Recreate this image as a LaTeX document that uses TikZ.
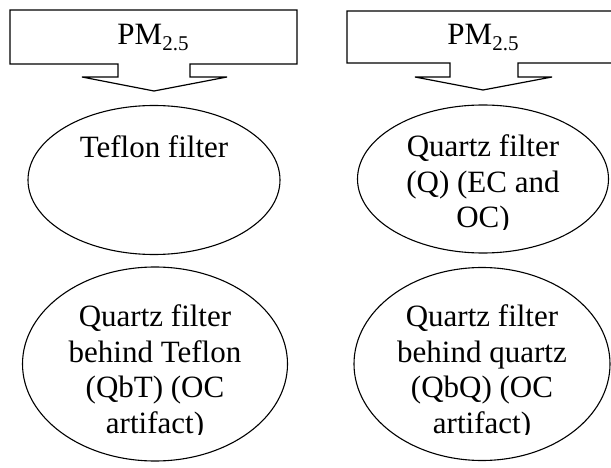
\documentclass[tikz,border=0pt]{standalone}
\usepackage{fontspec}
\setmainfont{Liberation Serif}
\usetikzlibrary{shapes.geometric}
\newcommand{\pmsub}{PM\raisebox{-5.5pt}{\fontsize{21}{21}\selectfont 2.5}}
\begin{document}
\begin{tikzpicture}[x=1pt,y=-1pt,
  outline/.style={draw=black,line width=1.2pt,line join=miter},
  filterbox/.style={ellipse,draw=black,line width=1.1pt,inner sep=0pt},
  caption/.style={font=\fontsize{31}{35.5}\selectfont,align=center,inner sep=0pt,anchor=base},
  pmtext/.style={font=\fontsize{31}{32}\selectfont,inner sep=0pt,anchor=base}]
\useasboundingbox (0,0) rectangle (611,468);

% left sampling stream: box with a downward arrow
\draw[outline] (10,10) -- (297,10) -- (297,64) -- (190,64) -- (190,77) -- (227,77)
  -- (154,91) -- (82,77) -- (118,77) -- (118,64) -- (10,64) -- cycle;
\node[pmtext] (pmA) at (153,45) {\pmsub};

% right sampling stream
\draw[outline] (347,11) -- (640,11) -- (640,63) -- (518,63) -- (518,77) -- (552,77)
  -- (483,90) -- (415,77) -- (450,77) -- (450,63) -- (347,63) -- cycle;
\node[pmtext] (pmB) at (483,45) {\pmsub};

% filters
\node[filterbox,minimum width=252pt,minimum height=149pt] (teflon) at (154,180) {};
\node[filterbox,minimum width=251pt,minimum height=148pt] (quartz) at (483,179) {};
\node[filterbox,minimum width=265pt,minimum height=194pt] (qbt) at (155,364) {};
\node[filterbox,minimum width=256pt,minimum height=193pt] (qbq) at (482,364) {};

% filter labels
\node[caption] (teflonlbl) at (154,158) {Teflon filter};
\begin{scope}
  \clip (360,100) rectangle (600,230);
  \node[caption] (quartzlbl1) at (483,157) {Quartz filter};
  \node[caption] (quartzlbl2) at (483,192.5) {(Q) (EC and};
  \node[caption] (quartzlbl3) at (483,228) {OC)};
\end{scope}
\begin{scope}
  \clip (25,270) rectangle (285,434);
  \node[caption] (qbtlbl1) at (155,326.5) {Quartz filter};
  \node[caption] (qbtlbl2) at (155,362) {behind Teflon};
  \node[caption] (qbtlbl3) at (155,397.5) {(QbT) (OC};
  \node[caption] (qbtlbl4) at (155,433) {artifact)};
\end{scope}
\begin{scope}
  \clip (355,270) rectangle (608,434);
  \node[caption] (qbqlbl1) at (482,326.5) {Quartz filter};
  \node[caption] (qbqlbl2) at (482,362) {behind quartz};
  \node[caption] (qbqlbl3) at (482,397.5) {(QbQ) (OC};
  \node[caption] (qbqlbl4) at (482,433) {artifact)};
\end{scope}
\end{tikzpicture}
\end{document}
